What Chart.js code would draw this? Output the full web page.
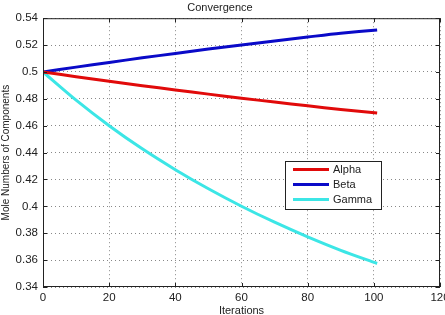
<!DOCTYPE html>
<html>
<head>
<meta charset="utf-8">
<script src="https://cdn.jsdelivr.net/npm/chart.js@4/dist/chart.umd.min.js"></script>
<style>
  html, body { margin: 0; padding: 0; background: #fff; }
  #wrap { width: 445px; height: 315px; }
</style>
</head>
<body>
<div id="wrap"><canvas id="convChart" width="445" height="315"></canvas></div>
<script>
// 데이터
var iterations = [0, 10, 20, 30, 40, 50, 60, 70, 80, 90, 101];
var alphaValues = [0.5, 0.4965, 0.4931, 0.4898, 0.4866, 0.4835, 0.4805, 0.4776, 0.4748, 0.4721, 0.4695];
var betaValues = [0.5, 0.5036, 0.5071, 0.5105, 0.5138, 0.5170, 0.5201, 0.5231, 0.5260, 0.5288, 0.5313];
var gammaValues = [0.5, 0.479, 0.460, 0.4428, 0.4273, 0.4131, 0.4001, 0.3882, 0.3773, 0.3673, 0.3575];
var xTicks = [0, 20, 40, 60, 80, 100, 120];
var yTicks = [0.34, 0.36, 0.38, 0.4, 0.42, 0.44, 0.46, 0.48, 0.5, 0.52, 0.54];
var seriesNames = ['Alpha', 'Beta', 'Gamma'];

Chart.defaults.font.family = 'Liberation Sans, Arial, sans-serif';
Chart.defaults.color = '#222';

function toPoints(vals) {
  return vals.map(function (v, i) { return { x: iterations[i], y: v }; });
}

// 테두리 + 안쪽 눈금
var framePlugin = {
  id: 'frame',
  afterDatasetsDraw: function (chart) {
    var ctx = chart.ctx, a = chart.chartArea;
    var sx = chart.scales.x, sy = chart.scales.y;
    ctx.save();
    ctx.strokeStyle = '#222';
    ctx.lineWidth = 1;
    ctx.strokeRect(a.left + 0.5, a.top + 0.5, a.right - a.left - 1, a.bottom - a.top - 1);
    ctx.beginPath();
    xTicks.forEach(function (t) {
      var px = Math.round(sx.getPixelForValue(t)) + 0.5;
      ctx.moveTo(px, a.bottom); ctx.lineTo(px, a.bottom - 4);
      ctx.moveTo(px, a.top); ctx.lineTo(px, a.top + 4);
    });
    yTicks.forEach(function (t) {
      var py = Math.round(sy.getPixelForValue(t)) + 0.5;
      ctx.moveTo(a.left, py); ctx.lineTo(a.left + 4, py);
      ctx.moveTo(a.right, py); ctx.lineTo(a.right - 4, py);
    });
    ctx.stroke();
    ctx.restore();
  }
};

// 범례 박스 (차트 안쪽)
var legendBoxPlugin = {
  id: 'legendBox',
  afterDraw: function (chart) {
    var ctx = chart.ctx;
    var bx = 285, by = 161, bw = 96, bh = 48;
    ctx.save();
    ctx.fillStyle = '#fff';
    ctx.fillRect(bx, by, bw, bh);
    ctx.strokeStyle = '#222';
    ctx.lineWidth = 1;
    ctx.strokeRect(bx + 0.5, by + 0.5, bw, bh);
    ctx.font = '11px Liberation Sans, Arial, sans-serif';
    ctx.textBaseline = 'middle';
    chart.data.datasets.forEach(function (ds, i) {
      var y = by + 8.5 + i * 15;
      ctx.strokeStyle = ds.borderColor;
      ctx.lineWidth = 3;
      ctx.beginPath();
      ctx.moveTo(293, y); ctx.lineTo(329, y);
      ctx.stroke();
      ctx.fillStyle = '#222';
      ctx.fillText(ds.label, 333, y);
    });
    ctx.restore();
  }
};

var chartArea = document.getElementById('convChart');
var myChart = new Chart(chartArea, {
  type: 'line',
  data: {
    datasets: [{
      label: seriesNames[0],
      data: toPoints(alphaValues),
      borderColor: 'rgb(225, 10, 10)',
      borderWidth: 3,
      pointRadius: 0,
      tension: 0.3,
    }, {
      label: seriesNames[1],
      data: toPoints(betaValues),
      borderColor: 'rgb(10, 10, 200)',
      borderWidth: 3,
      pointRadius: 0,
      tension: 0.3,
    }, {
      label: seriesNames[2],
      data: toPoints(gammaValues),
      borderColor: 'rgb(60, 230, 230)',
      borderWidth: 3,
      pointRadius: 0,
      tension: 0.3,
    }]
  },
  options: {
    responsive: false,
    animation: false,
    events: [],
    layout: {
      padding: { left: 0, right: 5, top: 0, bottom: 0 }
    },
    plugins: {
      legend: { display: false },
      tooltip: { enabled: false },
      title: {
        display: true,
        text: 'Convergence',
        font: { size: 11, weight: 'normal' },
        color: '#222',
        padding: { top: 1, bottom: 4 },
      }
    },
    scales: {
      x: {
        type: 'linear',
        min: 0,
        max: 120,
        afterBuildTicks: function (scale) {
          scale.ticks = xTicks.map(function (v) { return { value: v }; });
        },
        afterFit: function (scale) {
          scale.height = 28;
          scale.paddingLeft = 0;
          scale.paddingRight = 0;
        },
        grid: {
          color: '#888',
          lineWidth: 1,
          drawTicks: false,
        },
        border: { display: false, dash: [1, 3] },
        ticks: {
          padding: 4,
          maxRotation: 0,
          autoSkip: false,
          font: { size: 11.5 },
          color: '#222',
        },
        title: {
          display: true,
          text: 'Iterations',
          font: { size: 11, lineHeight: 0.8 },
          color: '#222',
          padding: { top: 0, bottom: 0 },
        }
      },
      y: {
        min: 0.34,
        max: 0.54,
        afterBuildTicks: function (scale) {
          scale.ticks = yTicks.map(function (v) { return { value: v }; });
        },
        afterFit: function (scale) {
          scale.width = 43;
          scale.paddingTop = 0;
          scale.paddingBottom = 0;
        },
        grid: {
          color: '#888',
          lineWidth: 1,
          drawTicks: false,
        },
        border: { display: false, dash: [1, 3] },
        ticks: {
          padding: 5,
          autoSkip: false,
          font: { size: 11.5 },
          color: '#222',
          callback: function (v) { return String(+v.toFixed(2)); }
        },
        title: {
          display: true,
          text: 'Mole Numbers of Components',
          font: { size: 10 },
          color: '#222',
          padding: { top: 0, bottom: 0 },
        }
      }
    }
  },
  plugins: [framePlugin, legendBoxPlugin]
});
</script>
</body>
</html>
